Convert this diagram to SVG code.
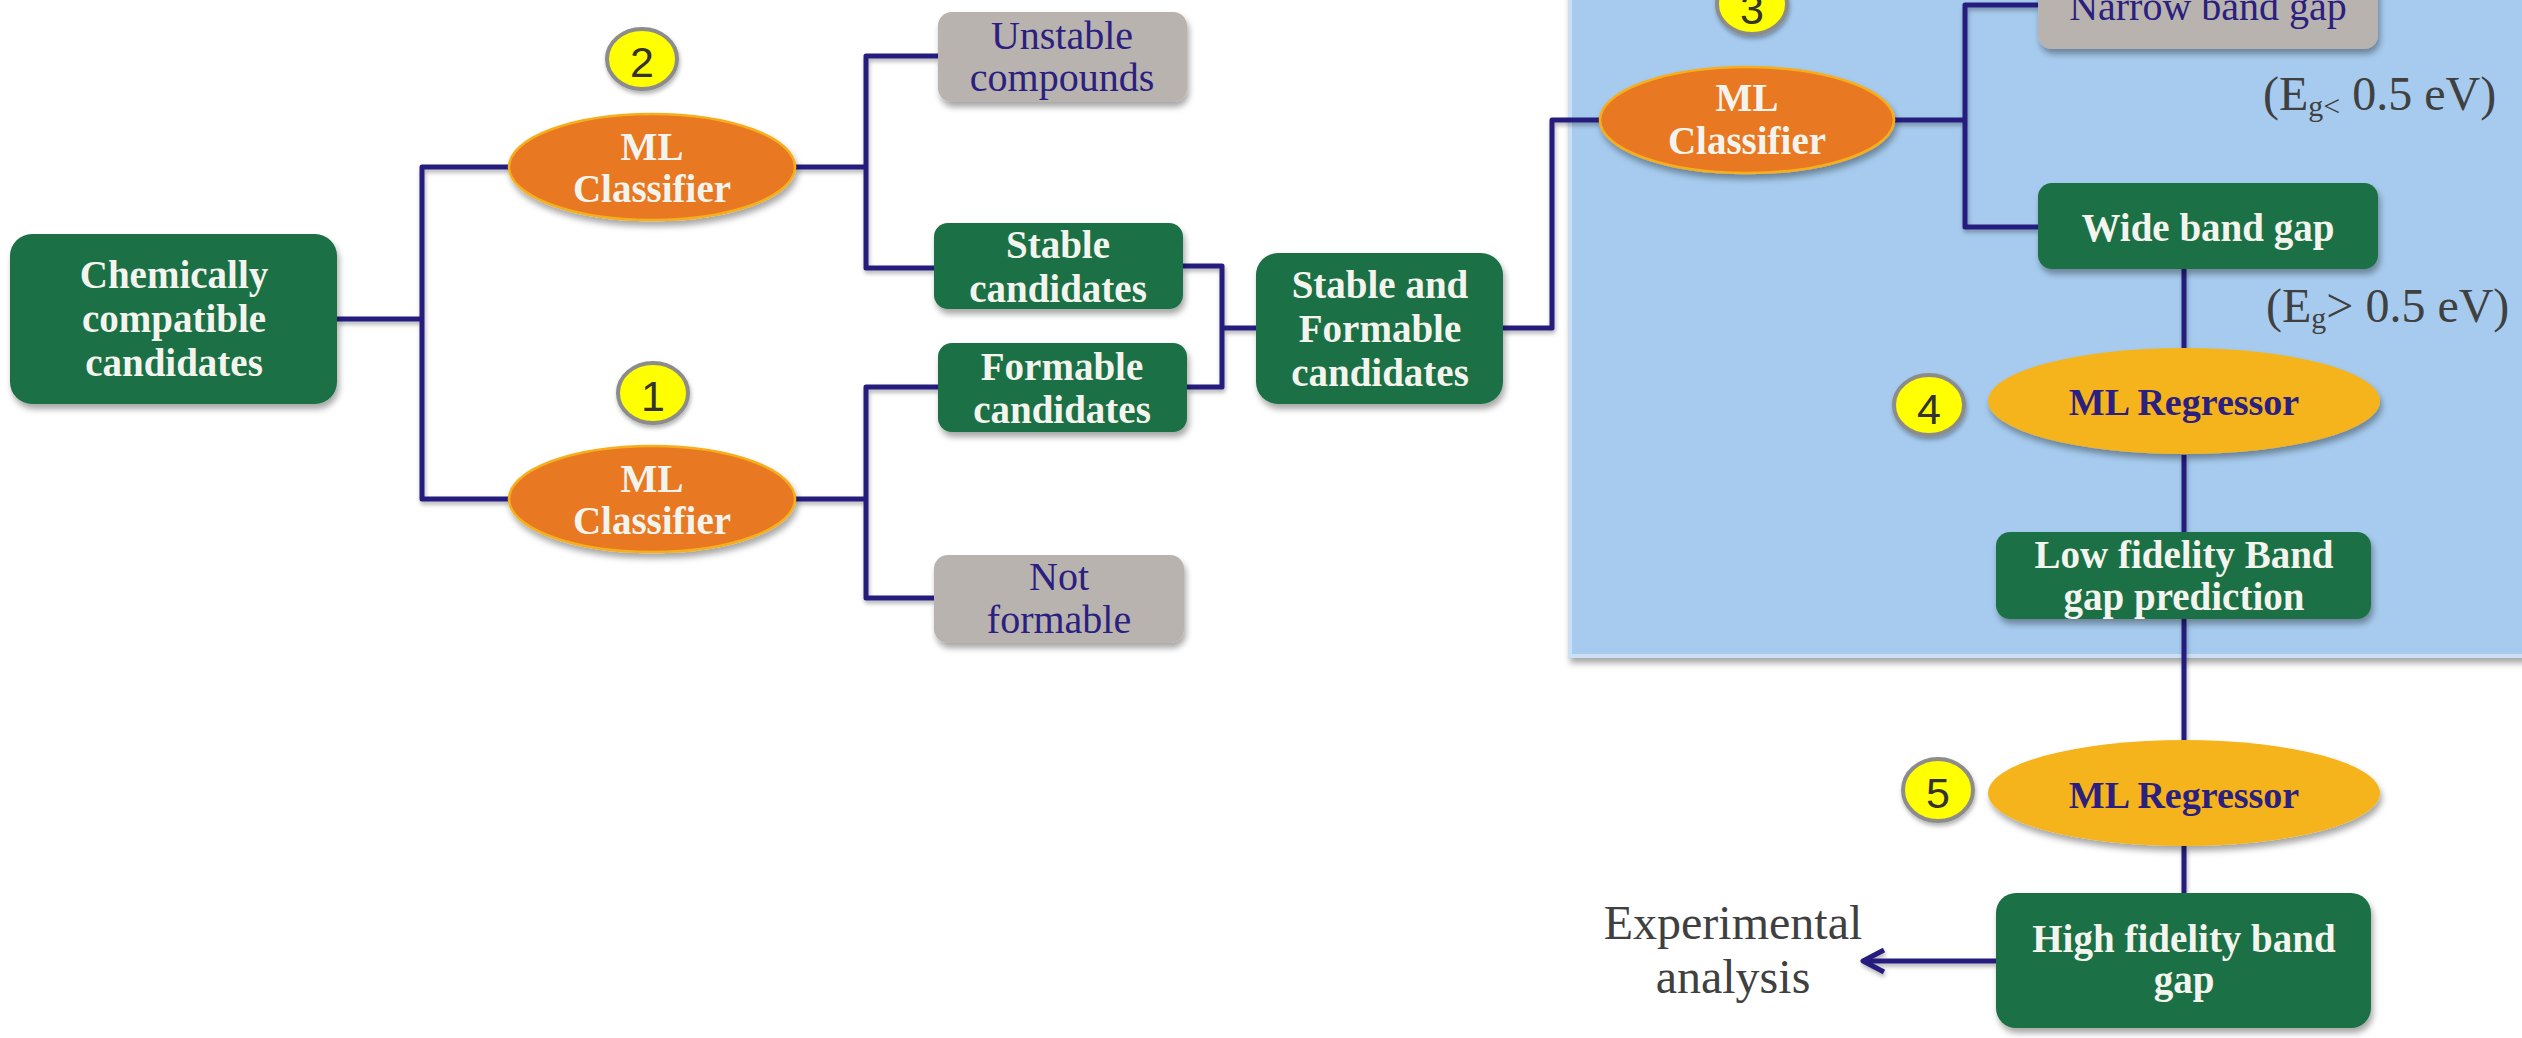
<svg xmlns="http://www.w3.org/2000/svg" width="2522" height="1038" viewBox="0 0 2522 1038">
<defs>
<filter id="sh" x="-20%" y="-20%" width="140%" height="150%">
<feDropShadow dx="2" dy="5" stdDeviation="3" flood-color="#000" flood-opacity="0.35"/>
</filter>
<filter id="shl" filterUnits="userSpaceOnUse" x="0" y="0" width="2522" height="1038">
<feDropShadow dx="1" dy="3" stdDeviation="2" flood-color="#000" flood-opacity="0.3"/>
</filter>
<filter id="shb" x="-20%" y="-20%" width="140%" height="150%">
<feDropShadow dx="1" dy="3" stdDeviation="2" flood-color="#000" flood-opacity="0.3"/>
</filter>
<style>
.green{fill:#1b6f44;filter:url(#sh)}
.gray{fill:#b8b3ae;filter:url(#sh)}
.orange{fill:#e87922;stroke:#f6ae1c;stroke-width:2.5;filter:url(#sh)}
.gold{fill:#f6b41a;filter:url(#sh)}
.badge{fill:#ffff00;stroke:#8c8c8c;stroke-width:4;filter:url(#shb)}
.digit{font-family:"Liberation Sans",Arial,sans-serif;font-size:43px;fill:#333;text-anchor:middle}
.wt{font-family:"Liberation Serif","Times New Roman",serif;font-weight:bold;font-size:39px;fill:#f4f4ee;text-anchor:middle}
.nt{font-family:"Liberation Serif","Times New Roman",serif;font-size:40px;fill:#2b2080;text-anchor:middle}
.rt{font-family:"Liberation Serif","Times New Roman",serif;font-weight:bold;font-size:38px;fill:#2b2080;text-anchor:middle}
.gt{font-family:"Liberation Serif","Times New Roman",serif;font-size:48px;fill:#404040}
.conn{fill:none;stroke:#251e7e;stroke-width:5;stroke-linejoin:round;stroke-linecap:butt}
</style>
</defs>
<rect width="2522" height="1038" fill="#ffffff"/>
<g id="panel">
<rect x="1570" y="-10" width="1000" height="666" fill="#a6cbee" stroke="#cbe0f5" stroke-width="4" filter="url(#sh)"/>
</g>
<g id="connectors" filter="url(#shl)">
<path class="conn" d="M337,319 H422 M509,167 H422 V499 H509"/>
<path class="conn" d="M795,167 H866 M938,56 H866 V268 H934"/>
<path class="conn" d="M795,499 H866 M938,387 H866 V598 H934"/>
<path class="conn" d="M1183,266 H1222 V387 H1187 M1222,328 H1256"/>
<path class="conn" d="M1503,328 H1552 V120 H1600"/>
<path class="conn" d="M1894,120 H1965 M2038,5 H1965 V227 H2038"/>
<path class="conn" d="M2184,269 V348 M2184,455 V532 M2184,619 V740 M2184,846 V893"/>
<path class="conn" d="M1996,961 H1866"/>
<path class="conn" d="M1884,950 L1863,961 L1884,972" stroke-linecap="round"/>
</g>
<g id="chem">
<rect class="green" x="10" y="234" width="327" height="170" rx="22"/>
<text class="wt" x="174" y="288">Chemically</text>
<text class="wt" x="174" y="332">compatible</text>
<text class="wt" x="174" y="376">candidates</text>
</g>
<g id="badge2"><ellipse class="badge" cx="642" cy="59" rx="35" ry="30"/><text class="digit" x="642" y="77">2</text></g>
<g id="classifier2">
<ellipse class="orange" cx="652" cy="167" rx="143" ry="53"/>
<text class="wt" x="652" y="160">ML</text>
<text class="wt" x="652" y="202">Classifier</text>
</g>
<g id="badge1"><ellipse class="badge" cx="653" cy="393" rx="35" ry="30"/><text class="digit" x="653" y="411">1</text></g>
<g id="classifier1">
<ellipse class="orange" cx="652" cy="499" rx="143" ry="53"/>
<text class="wt" x="652" y="492">ML</text>
<text class="wt" x="652" y="534">Classifier</text>
</g>
<g id="unstable">
<rect class="gray" x="938" y="12" width="249" height="90" rx="14"/>
<text class="nt" x="1062" y="49">Unstable</text>
<text class="nt" x="1062" y="91">compounds</text>
</g>
<g id="stable">
<rect class="green" x="934" y="223" width="249" height="86" rx="14"/>
<text class="wt" x="1058" y="258">Stable</text>
<text class="wt" x="1058" y="302">candidates</text>
</g>
<g id="formable">
<rect class="green" x="938" y="343" width="249" height="89" rx="14"/>
<text class="wt" x="1062" y="380">Formable</text>
<text class="wt" x="1062" y="423">candidates</text>
</g>
<g id="notformable">
<rect class="gray" x="934" y="555" width="250" height="88" rx="14"/>
<text class="nt" x="1059" y="590">Not</text>
<text class="nt" x="1059" y="633">formable</text>
</g>
<g id="stableformable">
<rect class="green" x="1256" y="253" width="247" height="151" rx="22"/>
<text class="wt" x="1380" y="298">Stable and</text>
<text class="wt" x="1380" y="342">Formable</text>
<text class="wt" x="1380" y="386">candidates</text>
</g>
<g id="badge3"><ellipse class="badge" cx="1752" cy="4" rx="35" ry="30"/><text class="digit" x="1752" y="24">3</text></g>
<g id="classifier3">
<ellipse class="orange" cx="1747" cy="120" rx="147" ry="53"/>
<text class="wt" x="1747" y="111">ML</text>
<text class="wt" x="1747" y="154">Classifier</text>
</g>
<g id="narrow">
<rect class="gray" x="2038" y="-37" width="340" height="86" rx="14"/>
<text class="nt" x="2208" y="20">Narrow band gap</text>
</g>
<g id="wide">
<rect class="green" x="2038" y="183" width="340" height="86" rx="14"/>
<text class="wt" x="2208" y="241">Wide band gap</text>
</g>
<g id="label-narrow"><text class="gt" x="2263" y="110">(E<tspan font-size="30" dy="6">g&lt;</tspan><tspan dy="-6"> 0.5 eV)</tspan></text></g>
<g id="label-wide"><text class="gt" x="2266" y="322">(E<tspan font-size="30" dy="6">g</tspan><tspan dy="-6">&gt; 0.5 eV)</tspan></text></g>
<g id="badge4"><ellipse class="badge" cx="1929" cy="405" rx="35" ry="30"/><text class="digit" x="1929" y="424">4</text></g>
<g id="regressor4">
<ellipse class="gold" cx="2184" cy="401" rx="196" ry="53"/>
<text class="rt" x="2184" y="415">ML Regressor</text>
</g>
<g id="lowfidelity">
<rect class="green" x="1996" y="532" width="375" height="87" rx="14"/>
<text class="wt" x="2184" y="568">Low fidelity Band</text>
<text class="wt" x="2184" y="610">gap prediction</text>
</g>
<g id="badge5"><ellipse class="badge" cx="1938" cy="790" rx="35" ry="31"/><text class="digit" x="1938" y="808">5</text></g>
<g id="regressor5">
<ellipse class="gold" cx="2184" cy="793" rx="196" ry="53"/>
<text class="rt" x="2184" y="808">ML Regressor</text>
</g>
<g id="highfidelity">
<rect class="green" x="1996" y="893" width="375" height="135" rx="20"/>
<text class="wt" x="2184" y="952">High fidelity band</text>
<text class="wt" x="2184" y="993">gap</text>
</g>
<g id="experimental">
<text class="gt" x="1733" y="939" text-anchor="middle">Experimental</text>
<text class="gt" x="1733" y="993" text-anchor="middle">analysis</text>
</g>
</svg>
